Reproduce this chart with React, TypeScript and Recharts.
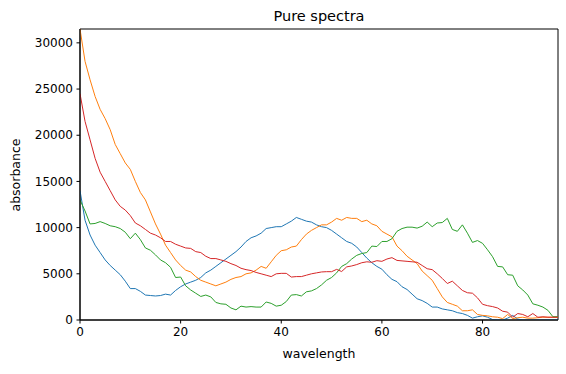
import React from 'react';
import { LineChart, Line, XAxis, YAxis, ReferenceArea } from 'recharts';

// absorbance, one value per wavelength 0..95
const blueSpectrum = [
  14000, 10800, 9200, 8100, 7300, 6500, 5900, 5400, 4900, 4200,
  3400, 3400, 3100, 2700, 2650, 2600, 2650, 2800, 2700, 3200,
  3600, 3900, 4100, 4300, 4600, 5100, 5400, 5800, 6200, 6600,
  7000, 7400, 7900, 8500, 8900, 9100, 9400, 9900, 10000, 10100,
  10100, 10400, 10700, 11100, 10900, 10700, 10600, 10300, 10100, 10000,
  9700, 9300, 8900, 8500, 8300, 7900, 7300, 6700, 6200, 5800,
  5500, 4900, 4400, 4150, 3600, 3300, 2800, 2300, 2100, 1800,
  1400, 1400, 1200, 1100, 1000, 800, 700, 500, 200, 350,
  450, 300, 50, 0, 0, 200, 500, 100, 0, 0,
  0, 0, 0, 0, 0, 0,
];

const orangeSpectrum = [
  31500, 28000, 26000, 24200, 22800, 21800, 20600, 19000, 18000, 17000,
  16300, 15000, 13800, 13000, 11700, 10400, 9300, 8100, 7300, 6500,
  5900, 5400, 5200, 4700, 4300, 4100, 3900, 3700, 3900, 4100,
  4400, 4600, 4700, 5000, 5100, 5400, 5800, 5600, 6300, 7000,
  7500, 7600, 7900, 8000, 8700, 9300, 9700, 10000, 10300, 10300,
  10600, 11000, 10800, 11100, 11000, 11000, 10650, 10800, 10400, 10200,
  9600, 9300, 9000, 8000, 7500, 6900, 6500, 6100, 5300, 4800,
  4300, 3400, 2500, 1900, 1700, 1500, 1000, 1000, 1100, 600,
  500, 450, 350, 300, 150, 600, 150, 250, 300, 200,
  200, 250, 300, 300, 300, 300,
];

const greenSpectrum = [
  13000, 11800, 10400, 10450, 10650, 10450, 10200, 10100, 9900, 9500,
  8800, 9400, 8700, 7800, 7550, 7050, 6500, 6200, 5700, 4600,
  4650, 3700, 3250, 2900, 2550, 2700, 2500, 1900, 1750, 1700,
  1300, 1100, 1500, 1400, 1450, 1400, 1400, 1950, 1800, 1500,
  1600, 2000, 2700, 2750, 2600, 3050, 3150, 3400, 3800, 4300,
  4600, 5100, 5800, 6100, 6600, 7000, 7200, 7300, 8000, 7950,
  8500, 8500, 8800, 9600, 9900, 10050, 10050, 9950, 10150, 10600,
  10100, 10500, 10550, 11000, 9800, 9600, 10300, 9400, 8400, 8600,
  8300, 7600, 6850, 5800, 5750, 4900, 4850, 3700, 3250, 2700,
  1750, 1600, 1400, 1050, 350, 360,
];

const redSpectrum = [
  24500, 21500, 19500, 17500, 16000, 15000, 14000, 13000, 12300, 11900,
  11300, 10500, 10200, 9800, 9400, 9200, 8900, 8500, 8500, 8200,
  8000, 7800, 7750, 7400, 7300, 6900, 6650, 6650, 6500, 6350,
  6100, 5900, 5600, 5450, 5350, 5150, 5000, 4850, 4700, 5000,
  5050, 5050, 4650, 4700, 4700, 4850, 5000, 5100, 5200, 5230,
  5230, 5480, 5250, 5750, 5850, 6000, 6200, 6300, 6250, 6420,
  6350, 6600, 6750, 6450, 6400, 6350, 6300, 6250, 5900, 5550,
  5450, 5000, 4500, 3950, 4200, 3700, 3200, 2950, 2900, 2400,
  1700, 1550, 1450, 1300, 950, 850, 300, 700, 600, 350,
  700, 300, 350, 300, 300, 300,
];

const xTicks = [0, 20, 40, 60, 80];
const yTicks = [0, 5000, 10000, 15000, 20000, 25000, 30000];

const data = blueSpectrum.map((v, i) => ({
  wavelength: i,
  s0: v,
  s1: orangeSpectrum[i],
  s2: greenSpectrum[i],
  s3: redSpectrum[i],
}));

const font = '"DejaVu Sans", sans-serif';
const tickStyle = { fill: '#000', fontSize: 12, fontFamily: font };

export default function App() {
  return (
    <div style={{ position: 'absolute', left: 0, top: 0, width: 566, height: 374, background: '#fff' }}>
      <LineChart
        width={566}
        height={374}
        data={data}
        margin={{ top: 29, right: 8, left: 0, bottom: 0 }}
      >
        <XAxis
          dataKey="wavelength"
          type="number"
          domain={[0, 95]}
          ticks={xTicks}
          allowDataOverflow
          height={54}
          stroke="#000"
          tickSize={3.5}
          tickMargin={3.5}
          tick={tickStyle}
        />
        <YAxis
          type="number"
          domain={[0, 31500]}
          ticks={yTicks}
          allowDataOverflow
          width={80}
          stroke="#000"
          tickSize={3.5}
          tickMargin={3.5}
          tick={tickStyle}
        />
        <Line dataKey="s0" stroke="#1f77b4" strokeWidth={1} dot={false} isAnimationActive={false} />
        <Line dataKey="s1" stroke="#ff7f0e" strokeWidth={1} dot={false} isAnimationActive={false} />
        <Line dataKey="s2" stroke="#2ca02c" strokeWidth={1} dot={false} isAnimationActive={false} />
        <Line dataKey="s3" stroke="#d62728" strokeWidth={1} dot={false} isAnimationActive={false} />
        <ReferenceArea x1={0} x2={95} y1={0} y2={31500} fill="none" stroke="#000" strokeWidth={1} ifOverflow="visible" />
      </LineChart>
      <div style={{ position: 'absolute', left: 80, width: 478, top: 7, textAlign: 'center', fontFamily: font, fontSize: 14.5, lineHeight: '18px' }}>
        Pure spectra
      </div>
      <div style={{ position: 'absolute', left: 80, width: 478, top: 346, textAlign: 'center', fontFamily: font, fontSize: 12.5, lineHeight: '16px' }}>
        wavelength
      </div>
      <div style={{ position: 'absolute', left: 16, top: 175, fontFamily: font, fontSize: 12.5, lineHeight: '16px', whiteSpace: 'nowrap', transform: 'translate(-50%, -50%) rotate(-90deg)' }}>
        absorbance
      </div>
    </div>
  );
}
